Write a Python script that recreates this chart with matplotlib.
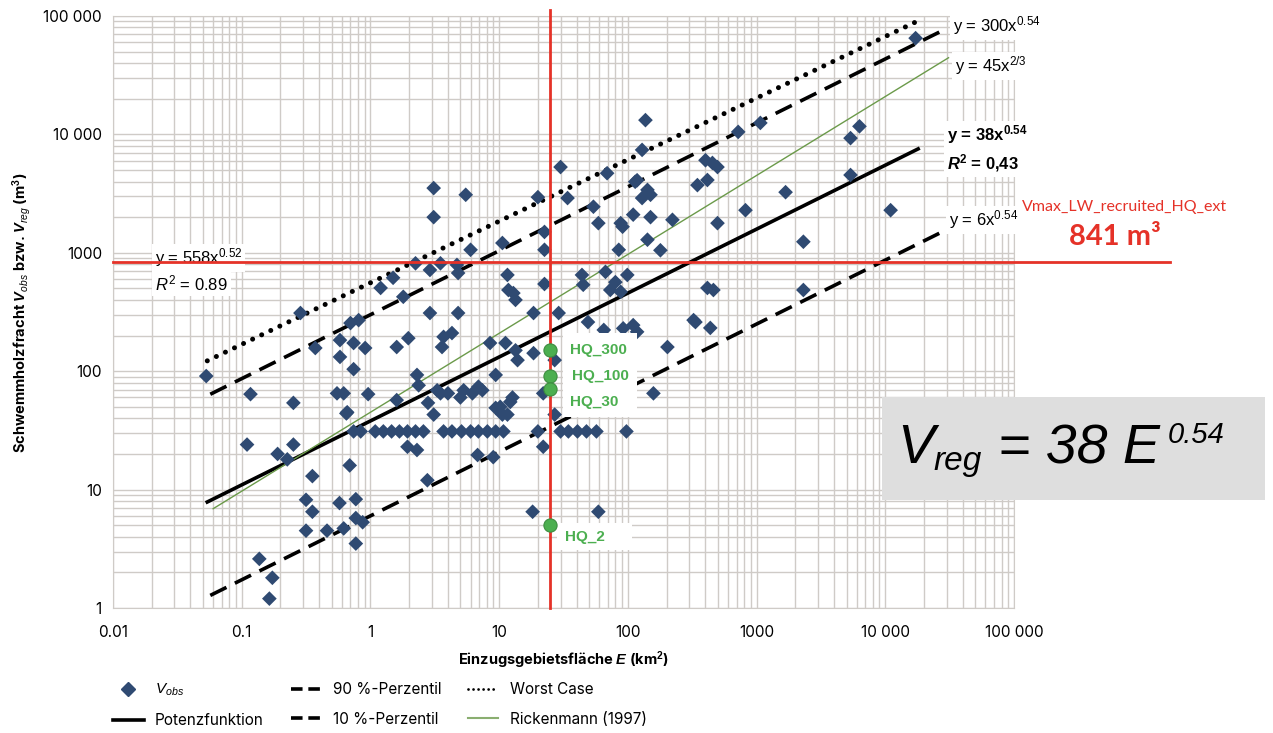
import numpy as np
import matplotlib
matplotlib.use("Agg")
import matplotlib.pyplot as plt
from matplotlib.patches import Rectangle
from matplotlib.lines import Line2D
from matplotlib.ticker import LogLocator, NullFormatter

plt.rcParams['font.family'] = ['Inter', 'DejaVu Sans']
plt.rcParams['mathtext.fontset'] = 'custom'
plt.rcParams['mathtext.rm'] = 'Liberation Sans'
plt.rcParams['mathtext.it'] = 'Liberation Sans:italic'
plt.rcParams['mathtext.bf'] = 'Liberation Sans:bold'
plt.rcParams['mathtext.bfit'] = 'Liberation Sans:bold:italic'

# observed events: catchment area E (km2) and wood volume V (m3)
E_obs = [0.053, 0.117, 0.11, 0.19, 0.226, 0.252, 0.252, 0.286, 0.373, 0.354,
         0.316, 0.354, 0.316, 0.46, 0.137, 0.173, 0.164, 0.55, 0.62, 0.66,
         0.58, 0.58, 0.74, 0.74, 0.70, 0.81, 0.91, 0.96, 1.2, 1.5,
         1.8, 1.6, 1.97, 2.24, 1.6, 0.62, 0.575, 0.77, 0.77, 0.87,
         0.77, 0.69, 0.65, 1.94, 2.3,
         # row at ~31 m3
         0.74, 0.84, 1.09, 1.26, 1.46, 1.68, 1.94, 2.24, 2.58, 3.7,
         4.3, 5.1, 6.0, 6.9, 8.1, 9.4, 10.8, 20, 30, 34.5,
         40.6, 47.7, 57, 97.5,
         # middle
         2.9, 4.8, 18.5, 29, 3.7, 4.3, 3.6, 8.5, 11.2, 13.4,
         13.9, 18.5, 9.4, 2.3, 2.37, 2.8, 3.1, 6.8, 9.0, 22,
         2.77, 18.2, 59, 158, 49, 65, 92, 110, 118, 27,
         22, 27, 12.7, 10.2, 11.6, 137, 30, 3.1, 5.5, 3.1,
         20, 34, 69, 129, 118, 142, 129, 150, 114, 54,
         59, 88, 91, 110, 150, 142, 85, 10.6, 6.0, 22.5,
         22.5, 2.9, 3.5, 4.7, 4.8, 11.6, 11.8, 12.9, 13.4, 22.5,
         44, 45, 67, 80, 73, 88, 99, 6.9, 6.2, 7.4,
         5.3, 5.0, 4.0, 3.5, 3.3, 9.4, 10.6, 12.2,
         # right
         17200, 1070, 720, 6300, 5370, 401, 454, 497, 347, 415,
         5370, 1680, 222, 820, 497, 11000, 2310, 179, 415, 462,
         2310, 324, 335, 437, 203]
V_obs = [91, 64, 24, 20, 18, 24, 54, 310, 157, 13,
         8.2, 6.5, 4.5, 4.5, 2.6, 1.8, 1.2, 65, 65, 45,
         132, 183, 173, 104, 255, 270, 157, 64, 505, 615,
         425, 160, 190, 815, 57, 4.7, 7.7, 8.3, 5.75, 5.3,
         3.5, 16, 44, 23, 21.6,
         31, 31, 31, 31, 31, 31, 31, 31, 31, 31,
         31, 31, 31, 31, 31, 31, 31, 31, 31, 31,
         31, 31, 31, 31,
         310, 310, 310, 310, 195, 210, 160, 173, 173, 150,
         124, 142, 93, 93, 76, 54, 43, 19.6, 18.8, 23,
         12, 6.5, 6.5, 65, 260, 223, 230, 245, 215, 124,
         65, 43, 60, 50, 43, 13200, 5300, 3520, 3090, 2000,
         2950, 2900, 4700, 7400, 4100, 3400, 2900, 3090, 3980, 2450,
         1780, 1780, 1660, 2100, 2000, 1290, 1060, 1210, 1060, 1500,
         1060, 716, 815, 790, 675, 650, 485, 457, 400, 545,
         650, 537, 690, 565, 485, 468, 650, 74, 65, 69,
         69, 60, 65, 65, 69, 49, 43, 55,
         65000, 12500, 10500, 11700, 9300, 6050, 5740, 5300, 3730, 4120,
         4540, 3250, 1900, 2290, 1780, 2290, 1240, 1050, 505, 485,
         485, 270, 260, 232, 160]

# fitted curves V = a * E^b
fit_labels = ['Potenzfunktion', '90 %-Perzentil', '10 %-Perzentil', 'Worst Case', 'Rickenmann (1997)']
fit_a = [38, 300, 6, 558, 45]
fit_b = [0.54, 0.54, 0.54, 0.52, 2 / 3]
fit_emin = [0.054, 0.057, 0.057, 0.054, 0.06]
fit_emax = [18000, 27000, 27000, 18000, 31000]

hq_labels = ['HQ_300', 'HQ_100', 'HQ_30', 'HQ_2']
hq_E = [25, 25, 25, 25]
hq_V = [150, 91, 71, 5.0]

E_site = 25
V_max = 841

W, H = 1273, 733
fig = plt.figure(figsize=(W / 100, H / 100), dpi=100)
ax = fig.add_axes([113 / W, 1 - 608 / H, (1014 - 113) / W, (608 - 16) / H])
ax.set_xscale('log')
ax.set_yscale('log')
ax.set_xlim(0.01, 1e5)
ax.set_ylim(1, 1e5)

gridc = '#cfcbc7'
for axis in (ax.xaxis, ax.yaxis):
    axis.set_minor_locator(LogLocator(base=10, subs=np.arange(2, 10), numticks=30))
    axis.set_minor_formatter(NullFormatter())
ax.grid(True, which='both', color=gridc, lw=1.0)
ax.set_axisbelow(True)
for s in ax.spines.values():
    s.set_color(gridc)
ax.tick_params(which='both', length=0)
ax.tick_params(axis='x', pad=12, labelsize=11)
ax.tick_params(axis='y', pad=8, labelsize=11)
ax.set_xticks([0.01, 0.1, 1, 10, 100, 1000, 1e4, 1e5],
              ['0.01', '0.1', '1', '10', '100', '1000', '10 000', '100 000'])
ax.set_yticks([1, 10, 100, 1000, 1e4, 1e5],
              ['1', '10', '100', '1000', '10 000', '100 000'])

styles = [
    dict(color='black', lw=2.6, ls='-'),
    dict(color='black', lw=2.6, ls=(0, (5.0, 2.6))),
    dict(color='black', lw=2.6, ls=(0, (5.0, 2.6))),
    dict(color='black', lw=3.6, ls=(0, (0.01, 2.0)), dash_capstyle='round'),
    dict(color='#6b9a4a', lw=1.0, ls='-'),
]
for lab, a, b, e0, e1, st in zip(fit_labels, fit_a, fit_b, fit_emin, fit_emax, styles):
    e = np.array([e0, e1])
    ax.plot(e, a * e ** b, zorder=2.5, **st)

ax.scatter(E_obs, V_obs, marker='D', s=56, color='#2f4a72', edgecolor='none', zorder=3)

red = '#e53228'
ax.axvline(E_site, ymin=0, ymax=(608 - 10) / (608 - 16), color=red, lw=2.0, clip_on=False, zorder=4)
ax.axhline(V_max, xmin=0, xmax=(1170 - 113) / (1014 - 113), color=red, lw=2.0, clip_on=False, zorder=4)

# white patches behind HQ labels
for x0, y0, x1, y1 in [(563, 333, 637, 417), (557, 523, 632, 550)]:
    ax.add_patch(Rectangle((x0 / W, 1 - y1 / H), (x1 - x0) / W, (y1 - y0) / H,
                           transform=fig.transFigure, fc='white', ec='none', zorder=3.3))

ax.scatter(hq_E, hq_V, s=90, color='#4caf50', edgecolor='#3d8d41', lw=0.8, zorder=5)
hq_pos = [(570, 350), (572, 376), (570, 402), (565, 537)]
for lab, (px, py) in zip(hq_labels, hq_pos):
    ax.text(px / W, 1 - py / H, lab, transform=fig.transFigure, fontsize=11, weight='bold',
            family='Liberation Sans', color='#4caf50', va='center', ha='left', zorder=5)


def ftext(px, py, s, z=6, **kw):
    return ax.text(px / W, 1 - py / H, s, transform=fig.transFigure, zorder=z, **kw)


wb = dict(fc='white', ec='none', pad=2)
eq = dict(family='Liberation Sans', fontsize=12, va='center', ha='left', bbox=wb)
ftext(953, 26, r'y = 300x$^{0.54}$', **eq)
ftext(955, 66, r'y = 45x$^{2/3}$', **eq)
ftext(947, 135, r'y = 38x$^{\mathbf{0.54}}$', weight='bold', **eq)
ftext(947, 163, r'$\mathbfit{R}^{\mathbf{2}}$ = 0,43', weight='bold', **eq)
ftext(949, 220, r'y = 6x$^{0.54}$', **eq)
ftext(155, 258, r'y = 558x$^{0.52}$', z=3.6, **eq)
ftext(155, 283, r'$R^2$ = 0.89', z=3.6, **eq)

fig.text(1125 / W, 1 - 207 / H, 'Vmax_LW_recruited_HQ_ext', color=red, family='Lato',
         fontsize=11.5, ha='center', va='center')
fig.text(1115 / W, 1 - 237 / H, '841 m³', color=red, family='Lato', weight='bold',
         fontsize=21, ha='center', va='center')

# regression formula box
fig.patches.append(Rectangle((882 / W, 1 - 500 / H), (1265 - 882) / W, (500 - 397) / H,
                             transform=fig.transFigure, fc='#dedede', ec='none', zorder=1))
fb = dict(family='Liberation Sans', style='italic', ha='left', va='baseline', zorder=2)
fig.text(897 / W, 1 - 463 / H, 'V', fontsize=40, **fb)
fig.text(933 / W, 1 - 470 / H, 'reg', fontsize=24, **fb)
fig.text(998 / W, 1 - 463 / H, '= 38 E', fontsize=40, **fb)
fig.text(1168 / W, 1 - 443 / H, '0.54', fontsize=21, **fb)

fig.text(563 / W, 1 - 660 / H, r'Einzugsgebietsfläche $\mathbfit{E}$ (km$^{\mathbf{2}}$)',
         fontsize=10.5, weight='bold', ha='center', va='center')
fig.text(22 / W, 1 - 313 / H,
         r'Schwemmholzfracht $\mathbfit{V}_{\mathit{obs}}$ bzw. $\mathbfit{V}_{\mathit{reg}}$ (m$^{\mathbf{3}}$)',
         fontsize=10.5, weight='bold', ha='center', va='center', rotation=90)

leg_h = [Line2D([], [], marker='D', ls='none', color='#2f4a72', ms=7.5),
         Line2D([], [], color='black', lw=2.6),
         Line2D([], [], color='black', lw=2.6, ls=(0, (3.2, 1.6))),
         Line2D([], [], color='black', lw=2.6, ls=(0, (3.2, 1.6))),
         Line2D([], [], color='black', lw=2.0, ls=(0, (0.01, 1.8)), dash_capstyle='round'),
         Line2D([], [], color='#8aae70', lw=1.5)]
leg_l = [r'$V_{obs}$', 'Potenzfunktion', '90 %-Perzentil', '10 %-Perzentil',
         'Worst Case', 'Rickenmann (1997)']
fig.legend(leg_h, leg_l, loc='upper left', bbox_to_anchor=(113 / W, 1 - 682 / H), ncol=3,
           frameon=False, fontsize=11, handlelength=2.0, handletextpad=0.75,
           columnspacing=1.75, labelspacing=0.95, borderpad=0, borderaxespad=0)

fig.savefig('out.png', dpi=100, facecolor='white')
